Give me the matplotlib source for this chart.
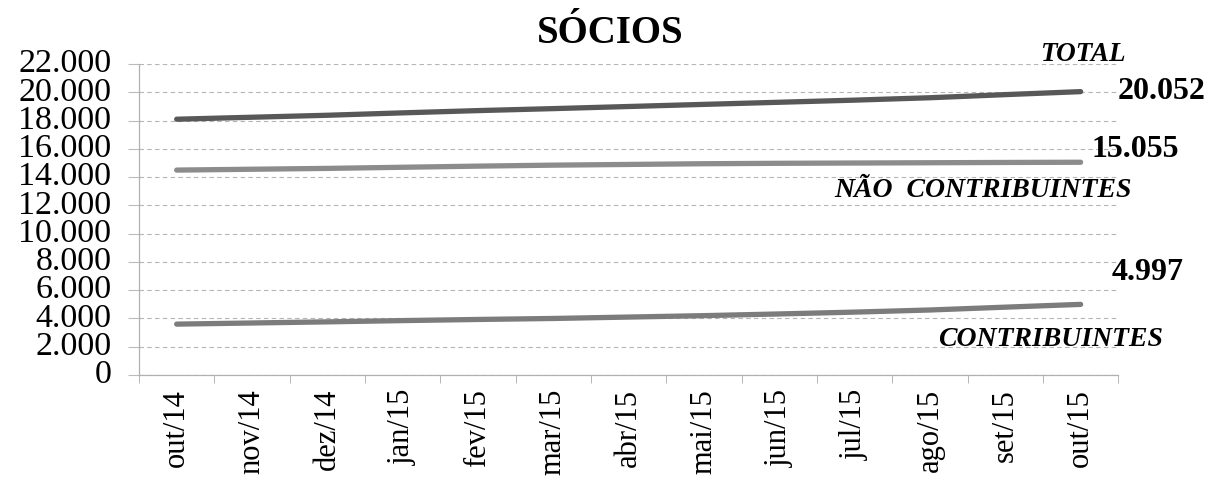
import matplotlib
matplotlib.use("Agg")
import matplotlib.pyplot as plt
import numpy as np

plt.rcParams["font.family"] = ["Liberation Serif", "DejaVu Serif"]

months = ["out/14", "nov/14", "dez/14", "jan/15", "fev/15", "mar/15", "abr/15",
          "mai/15", "jun/15", "jul/15", "ago/15", "set/15", "out/15"]
total = [18100, 18240, 18380, 18550, 18710, 18850, 19000, 19150, 19300, 19450, 19620, 19840, 20052]
nao_contrib = [14500, 14560, 14620, 14700, 14780, 14850, 14900, 14950, 14980, 15000, 15020, 15040, 15055]
contrib = [3600, 3680, 3760, 3850, 3930, 4000, 4100, 4200, 4320, 4450, 4600, 4800, 4997]
yticks = np.arange(0, 22001, 2000)

fig = plt.figure(figsize=(12.1, 4.82), dpi=100)
ax = fig.add_axes([0.1149, 0.222, 0.8093, 0.645])

x = np.arange(len(months))
ax.plot(x, total, color="#585858", lw=3.8, solid_capstyle="round", zorder=3)
ax.plot(x, nao_contrib, color="#8c8c8c", lw=3.8, solid_capstyle="round", zorder=3)
ax.plot(x, contrib, color="#7c7c7c", lw=3.8, solid_capstyle="round", zorder=3)

ax.set_xlim(-0.5, len(months) - 0.5)
ax.set_ylim(0, 22000)
ax.set_yticks(yticks)
ax.set_yticklabels([f"{v:,}".replace(",", ".") for v in yticks], fontsize=24.5)
ax.tick_params(axis="y", length=8, color="#bbbbbb", pad=12)
for lab in ax.get_yticklabels():
    lab.set_verticalalignment("center")

ax.set_xticks(x)
ax.set_xticklabels(months, rotation=90, fontsize=22)
ax.set_xticks(np.arange(-0.5, len(months)), minor=True)
ax.tick_params(axis="x", which="major", length=0, pad=10)
ax.tick_params(axis="x", which="minor", length=6, color="#aaaaaa")

ax.grid(axis="y", linestyle=(0, (4, 3)), color="#b5b5b5", lw=0.8)
for s in ("top", "right"):
    ax.spines[s].set_visible(False)
for s in ("left", "bottom"):
    ax.spines[s].set_color("#b0b0b0")
    ax.spines[s].set_linewidth(0.9)

ax.set_title("SÓCIOS", fontsize=28, fontweight="bold", x=0.481, pad=15)

def fmt(v):
    return f"{v:,}".replace(",", ".")

last = len(months) - 1
ax.annotate(fmt(total[-1]), (last, total[-1]), xytext=(27, 0), textcoords="offset points",
            fontsize=23, fontweight="bold", va="center", ha="left", annotation_clip=False)
ax.annotate(fmt(nao_contrib[-1]), (last, nao_contrib[-1]), xytext=(8, 9), textcoords="offset points",
            fontsize=23, fontweight="bold", va="center", ha="left", annotation_clip=False)
ax.annotate(fmt(contrib[-1]), (last, contrib[-1]), xytext=(22, 23), textcoords="offset points",
            fontsize=23, fontweight="bold", va="center", ha="left", annotation_clip=False)

ax.text(12.03, 22650, "TOTAL", fontsize=19.5, fontweight="bold", style="italic",
        ha="center", va="center", clip_on=False)
ax.text(10.71, 13090, "NÃO  CONTRIBUINTES", fontsize=20, fontweight="bold", style="italic",
        ha="center", va="center", clip_on=False)
ax.text(11.6, 2480, "CONTRIBUINTES", fontsize=20, fontweight="bold", style="italic",
        ha="center", va="center", clip_on=False)

fig.savefig("out.png", dpi=100)
